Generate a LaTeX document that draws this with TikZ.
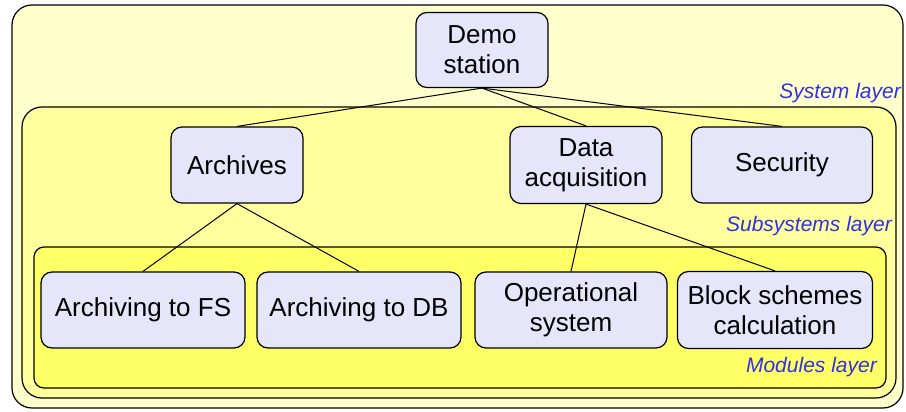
\documentclass[tikz,border=0pt]{standalone}
\usepackage{fontspec}
\setmainfont{Liberation Sans}
\definecolor{sysfill}{RGB}{255,255,204}
\definecolor{subfill}{RGB}{255,255,158}
\definecolor{modfill}{RGB}{255,255,102}
\definecolor{boxfill}{RGB}{230,230,250}
\definecolor{laytext}{RGB}{48,48,230}
\begin{document}
\begin{tikzpicture}[x=1pt, y=-1pt,
  unit/.style={draw, line width=1.2pt, fill=boxfill, rounded corners=11pt, align=center,
    inner sep=0pt, font=\fontsize{26}{30}\selectfont},
  layer/.style={draw, line width=1.2pt, rounded corners=20pt},
  laylabel/.style={anchor=east, inner sep=0pt, text=laytext, font=\fontsize{21}{24}\selectfont\itshape}]
\useasboundingbox (0,0) rectangle (906,412);
\draw[layer, fill=sysfill] (12,5) rectangle (903,408);
\draw[layer, fill=subfill] (22,107) rectangle (896,398);
\draw[layer, fill=modfill, rounded corners=10pt] (34,247) rectangle (886,388);
\node[laylabel] (lay0) at (901,93){System layer};
\node[laylabel] (lay1) at (892,226){Subsystems layer};
\node[laylabel] (lay2) at (877,367){Modules layer};
\node[unit, minimum width=132pt, minimum height=75pt] (st0) at (482,50){Demo\\station};
\node[unit, minimum width=132pt, minimum height=76pt] (sub1) at (237,165){Archives};
\node[unit, minimum width=152pt, minimum height=77pt] (sub2) at (586,165){Data\\acquisition};
\node[unit, minimum width=181pt, minimum height=76pt] (sub3) at (782,165){Security};
\draw[line width=1pt](st0.south) -- (sub1.north);
\draw[line width=1pt](st0.south) -- (sub2.north);
\draw[line width=1pt](st0.south) -- (sub3.north);
\node[unit, minimum width=204pt, minimum height=76pt] (mod1) at (143,310){Archiving to FS};
\node[unit, minimum width=204pt, minimum height=76pt] (mod2) at (359,310){Archiving to DB};
\node[unit, minimum width=192pt, minimum height=76pt] (mod3) at (571,310){Operational\\system};
\node[unit, minimum width=195pt, minimum height=77pt] (mod4) at (775,310){Block schemes\\calculation};
\draw[line width=1pt](sub1.south) -- (mod1.north);
\draw[line width=1pt](sub1.south) -- (mod2.north);
\draw[line width=1pt](sub2.south) -- (mod3.north);
\draw[line width=1pt](sub2.south) -- (mod4.north);
\end{tikzpicture}
\end{document}
